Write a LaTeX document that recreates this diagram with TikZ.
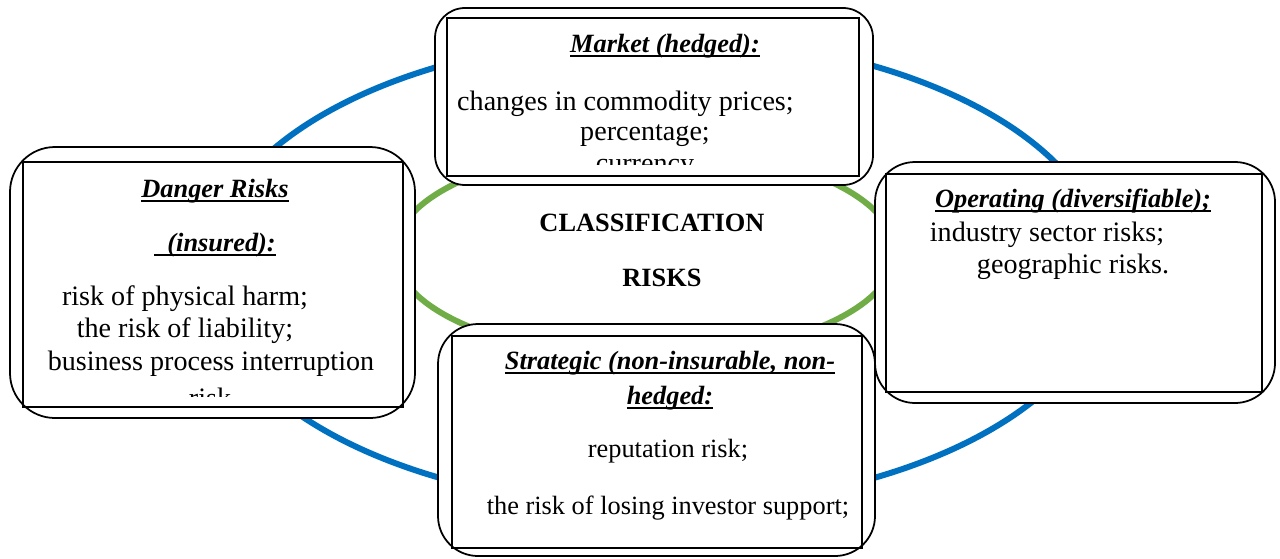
\documentclass[tikz,border=0pt]{standalone}
\usepackage{fontspec}
\setmainfont{Liberation Serif}
\usepackage{tikz}

\definecolor{ringblue}{HTML}{0070C0}
\definecolor{ringgreen}{HTML}{70AD47}
\newcommand{\hdline}[1]{\setbox0\hbox{#1}\rlap{\rule[-2.6pt]{\wd0}{1.1pt}}\box0}

\begin{document}
\begin{tikzpicture}[x=0.02cm, y=-0.02cm,
    box/.style={draw, line width=1pt, fill=white},
    frame/.style={draw, line width=1pt},
    head/.style={font=\fontsize{15}{18}\selectfont\bfseries\itshape},
    body/.style={font=\fontsize{15}{18}\selectfont},
    wide/.style={font=\fontsize{16}{19}\selectfont},
    title/.style={font=\fontsize{15}{18}\selectfont\bfseries}]
    \useasboundingbox (0,0) rectangle (1280,558);

    % Rings
    \draw[ringblue, line width=3.4pt] (657,272) ellipse [x radius=450, y radius=235];
    \draw[ringgreen, line width=3.4pt] (645,252) ellipse [x radius=250, y radius=105];

    % Centre
    \node (classif) at (652,223) [title] {CLASSIFICATION};
    \node (risks) at (662,278) [title] {RISKS};

    % Market box
    \draw[box, rounded corners=0.6cm] (435,8) rectangle (873,185);
    \draw[frame] (447,18) rectangle (859,176);
    \node (market) at (665,46) [head] {\hdline{Market (hedged):}};
    \node (commodity) at (451,104) [wide, anchor=west] {changes in commodity prices;};
    \node (percent) at (645,136) [wide] {percentage;};
    \begin{scope}
        \clip (447,18) rectangle (859,164);
        \node (currency) at (645,169) [wide] {currency};
    \end{scope}

    % Danger box
    \draw[box, rounded corners=0.9cm] (10,147) rectangle (415,418);
    \draw[frame] (23,162) rectangle (403,407);
    \node (danger) at (215,191) [head] {\hdline{Danger Risks}};
    \node (insured) at (215,245) [head] {\hdline{\ \ (insured):}};
    \node (physical) at (185,299) [wide] {risk of physical harm;};
    \node (liability) at (185,331) [wide] {the risk of liability;};
    \node (business) at (211,364) [wide] {business process interruption};
    \begin{scope}
        \clip (23,162) rectangle (403,396);
        \node (riskword) at (210,398) [wide] {risk};
    \end{scope}

    % Operating box
    \draw[box, rounded corners=0.8cm] (875,162) rectangle (1275,403);
    \draw[frame] (886,174) rectangle (1262,392);
    \node (operating) at (1073,201) [head] {\hdline{Operating (diversifiable);}};
    \node (sector) at (1047,235) [wide] {industry sector risks;};
    \node (geo) at (1073,267) [wide] {geographic risks.};

    % Strategic box
    \draw[box, rounded corners=0.8cm] (438,324) rectangle (875,556);
    \draw[frame] (452,336) rectangle (862,548);
    \node (strategic) at (670,363) [head] {\hdline{Strategic (non-insurable, non-}};
    \node (hedged) at (670,398) [head] {\hdline{hedged:}};
    \node (reputation) at (668,451) [body] {reputation risk;};
    \node (investor) at (668,508) [body] {the risk of losing investor support;};

\end{tikzpicture}
\end{document}
